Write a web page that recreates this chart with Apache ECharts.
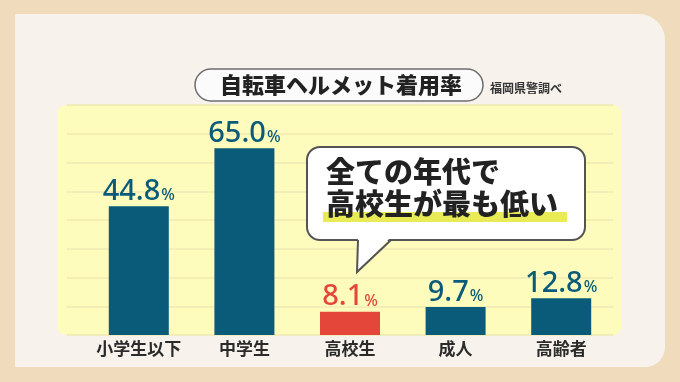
<!DOCTYPE html>
<html>
<head>
<meta charset="utf-8">
<script src="https://cdn.jsdelivr.net/npm/echarts@6/dist/echarts.min.js"></script>
<style>
html,body{margin:0;padding:0;background:#f0dcbc;}
#chart{width:680px;height:382px;}
</style>
</head>
<body>
<div id="chart"></div>
<script>
const categories = ['小学生以下', '中学生', '高校生', '成人', '高齢者'];
const rates = [44.8, 65.0, 8.1, 9.7, 12.8];
const highlightIndex = 2;
const titleText = '自転車ヘルメット着用率';
const sourceText = '福岡県警調べ';
const calloutLines = ['全ての年代で', '高校生が最も低い'];

const TEAL = '#0a5b7a';
const RED = '#e5463a';
const JP = '"Noto Sans CJK JP", sans-serif';
const NUM = '"Noto Sans", "Open Sans", sans-serif';

const chart = echarts.init(document.getElementById('chart'), null, {renderer: 'canvas'});

const barData = rates.map((v, i) => ({
  value: v,
  itemStyle: {color: i === highlightIndex ? RED : TEAL},
  label: {
    rich: {
      n: {fontFamily: NUM, fontSize: 29, fontWeight: 500, color: i === highlightIndex ? RED : TEAL},
      p: {fontFamily: NUM, fontSize: 16, fontWeight: 500, color: i === highlightIndex ? RED : TEAL, padding: [8, 0, 0, 1]}
    }
  }
}));

const option = {
  backgroundColor: '#f0dcbc',
  animation: false,
  grid: [
    {left: 86, right: 66, top: 105, bottom: 47},
    {left: 67, right: 67, top: 105, bottom: 47}
  ],
  xAxis: [
    {
      type: 'category', gridIndex: 0, data: categories,
      axisLine: {show: false}, axisTick: {show: false},
      axisLabel: {interval: 0, color: '#2b2b2b', fontFamily: JP, fontWeight: 'bold', fontSize: 17, margin: 5}
    },
    {type: 'value', gridIndex: 1, show: false, min: 0, max: 1}
  ],
  yAxis: [
    {type: 'value', gridIndex: 0, min: 0, max: 80, interval: 10, show: false},
    {
      type: 'value', gridIndex: 1, min: 0, max: 80, interval: 10,
      axisLine: {show: false}, axisTick: {show: false}, axisLabel: {show: false},
      splitLine: {show: true, lineStyle: {color: '#efe9b4', width: 1.5}}
    }
  ],
  graphic: [
    {type: 'rect', z: -20, shape: {x: 15, y: 14, width: 650, height: 353, r: [0, 26, 20, 0]}, style: {fill: '#f7f2ec'}},
    {type: 'rect', z: -10, shape: {x: 57, y: 105, width: 565, height: 230, r: [9, 9, 9, 9]}, style: {fill: '#fefcbd'}},
    {type: 'rect', z: 10, shape: {x: 195, y: 69, width: 288, height: 32, r: 16}, style: {fill: '#fbfbfb', stroke: '#6e6e6e', lineWidth: 1.5}},
    {type: 'text', z: 11, x: 341, y: 85, style: {text: titleText, fill: '#222', font: '900 22px ' + JP, textAlign: 'center', textVerticalAlign: 'middle'}},
    {type: 'text', z: 11, x: 490, y: 88, style: {text: sourceText, fill: '#333', font: 'bold 12px ' + JP, textAlign: 'left', textVerticalAlign: 'middle'}},
    {type: 'rect', z: 20, shape: {x: 307, y: 147, width: 278, height: 93, r: 13}, style: {fill: '#ffffff', stroke: '#545454', lineWidth: 2}},
    {type: 'polygon', z: 21, shape: {points: [[358, 237], [391, 237], [357, 272]]}, style: {fill: '#ffffff'}},
    {type: 'polyline', z: 22, shape: {points: [[358, 240], [357, 272], [391, 240]]}, style: {stroke: '#545454', lineWidth: 2, fill: null}},
    {type: 'rect', z: 23, shape: {x: 323, y: 212, width: 244, height: 10}, style: {fill: '#e8eb55'}},
    {type: 'text', z: 24, x: 326, y: 172, style: {text: calloutLines[0], fill: '#222', font: '900 29px ' + JP, textAlign: 'left', textVerticalAlign: 'middle'}},
    {type: 'text', z: 24, x: 326, y: 204, style: {text: calloutLines[1], fill: '#222', font: '900 29px ' + JP, textAlign: 'left', textVerticalAlign: 'middle'}}
  ],
  series: [
    {
      type: 'bar', xAxisIndex: 0, yAxisIndex: 0, barWidth: 60, z: 3,
      data: barData,
      label: {
        show: true, position: 'top', distance: 0,
        formatter: p => '{n|' + p.value.toFixed(1) + '}{p|%}'
      }
    }
  ]
};
chart.setOption(option);
</script>
</body>
</html>
